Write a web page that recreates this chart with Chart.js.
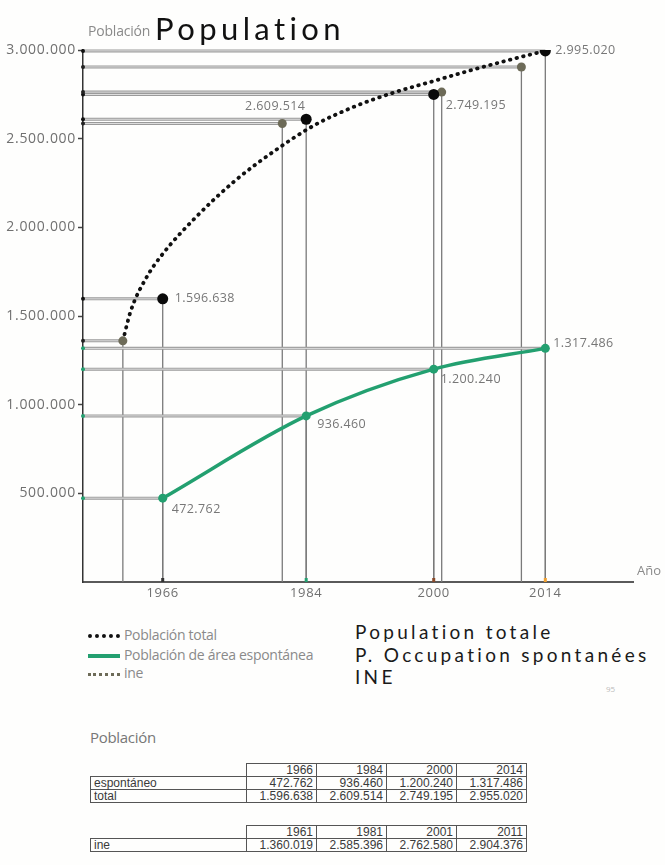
<!DOCTYPE html>
<html>
<head>
<meta charset="utf-8">
<script src="https://cdn.jsdelivr.net/npm/chart.js@4.4.1/dist/chart.umd.min.js"></script>
<style>
  html, body { margin: 0; padding: 0; background: #fefefd; }
  body { width: 665px; height: 865px; position: relative; overflow: hidden; font-family: "Open Sans", sans-serif; }
  #chart { position: absolute; left: 0; top: 0; }
  .abs { position: absolute; white-space: nowrap; }
  #subTitle { left: 88px; top: 21px; font-size: 14px; color: #8a8a8a; letter-spacing: -0.2px; }
  #mainTitle { left: 155px; top: 9px; font-family: Lato, sans-serif; font-size: 31px; color: #111; letter-spacing: 4.4px; }
  #ano { left: 637px; top: 561px; font-size: 13px; color: #8a8a8a; }
  .lg { font-size: 14px; color: #8a8a8a; letter-spacing: -0.3px; }
  .fr { font-family: Lato, sans-serif; font-size: 19px; color: #1a1a1a; letter-spacing: 3.3px; }
  .sw { display: inline-block; width: 32px; vertical-align: middle; margin-right: 4px; }
  #tblTitle { left: 90px; top: 727px; font-size: 15px; color: #777; letter-spacing: -0.3px; }
  table { position: absolute; border-collapse: collapse; font-family: "Liberation Sans", Arial, sans-serif; font-size: 12px; color: #3a3a3a; }
  td { border: 1px solid #555; padding: 0 3px; height: 12px; line-height: 12px; text-align: right; width: 63px; }
  td.lab { text-align: left; width: 149px; }
  td.blank { border: none; border-bottom: 1px solid #555; }
  #pg { left: 606px; top: 683px; font-size: 8px; color: #bbb; }
</style>
</head>
<body>
<canvas id="chart" width="665" height="610"></canvas>
<div class="abs" id="subTitle">Población</div>
<div class="abs" id="mainTitle">Population</div>
<div class="abs" id="ano">Año</div>

<div class="abs lg" style="left:88px; top:625px;"><span class="sw" style="border-top:4px dotted #111;"></span>Población total</div>
<div class="abs lg" style="left:88px; top:645px;"><span class="sw" style="border-top:4px solid #23a070;"></span>Población de área espontánea</div>
<div class="abs lg" style="left:88px; top:663px;"><span class="sw" style="border-top:3px dotted #6d6b58;"></span>ine</div>

<div class="abs fr" style="left:355px; top:620px;">Population totale</div>
<div class="abs fr" style="left:355px; top:643px;">P. Occupation spontanées</div>
<div class="abs fr" style="left:355px; top:665px;">INE</div>
<div class="abs" id="pg">95</div>

<div class="abs" id="tblTitle">Población</div>
<table id="t1" style="left:90px; top:763px;"></table>
<table id="t2" style="left:90px; top:825px;"></table>

<script>
// ---------- DATA ----------
const years = [1966, 1984, 2000, 2014];
const totalValues = [1596638, 2609514, 2749195, 2995020];
const espontaneoValues = [472762, 936460, 1200240, 1317486];
const ineYears = [1961, 1981, 2001, 2011];
const ineValues = [1360019, 2585396, 2762580, 2904376];
// dotted "Población total" curve
const curveYears = [1961, 1962, 1964, 1966, 1970, 1975, 1980, 1985, 1990, 1995, 2000, 2005, 2010, 2014];
const curveValues = [1360019, 1530000, 1720000, 1850000, 2050000, 2260000, 2430000, 2575000, 2680000, 2760000, 2825000, 2890000, 2950000, 2995020];
const xTickYears = [1966, 1984, 2000, 2014];
const yTickValues = [500000, 1000000, 1500000, 2000000, 2500000, 3000000];
// table values as printed
const tableRowLabels = ['espontáneo', 'total'];
const tableTotal = [1596638, 2609514, 2749195, 2955020];
const ineRowLabel = 'ine';

// ---------- helpers ----------
const fmt = v => String(Math.round(v)).replace(/\B(?=(\d{3})+(?!\d))/g, '.');
const FONT = '"Open Sans", sans-serif';

function buildTable(el, hdr, rows) {
  let h = '<tr><td class="lab blank"></td>' + hdr.map(y => '<td>' + y + '</td>').join('') + '</tr>';
  rows.forEach(r => {
    h += '<tr><td class="lab">' + r[0] + '</td>' + r[1].map(v => '<td>' + fmt(v) + '</td>').join('') + '</tr>';
  });
  el.innerHTML = h;
}
buildTable(document.getElementById('t1'), years, [[tableRowLabels[0], espontaneoValues], [tableRowLabels[1], tableTotal]]);
buildTable(document.getElementById('t2'), ineYears, [[ineRowLabel, ineValues]]);

const pts = (xs, ys) => xs.map((x, i) => ({ x: x, y: ys[i] }));

const GREEN = '#23a070';
const INE_C = '#6d6b58';

const guidePlugin = {
  id: 'guides',
  beforeDraw(chart) {
    chart.ctx.letterSpacing = '0.7px';
  },
  beforeDatasetsDraw(chart) {
    const { ctx, chartArea, scales: { x, y } } = chart;
    const groups = [
      { xs: years, ys: totalValues },
      { xs: ineYears, ys: ineValues },
      { xs: years, ys: espontaneoValues }
    ];
    ctx.save();
    groups.forEach(g => {
      g.xs.forEach((yr, i) => {
        const px = x.getPixelForValue(yr), py = y.getPixelForValue(g.ys[i]);
        ctx.strokeStyle = '#7a7a7a'; ctx.lineWidth = 1.3;
        ctx.beginPath(); ctx.moveTo(px, py); ctx.lineTo(px, chartArea.bottom); ctx.stroke();
        ctx.strokeStyle = '#9a9a9a'; ctx.lineWidth = 3;
        ctx.beginPath(); ctx.moveTo(chartArea.left, py); ctx.lineTo(px, py); ctx.stroke();
        ctx.strokeStyle = '#e6e6e6'; ctx.lineWidth = 0.9;
        ctx.beginPath(); ctx.moveTo(chartArea.left, py); ctx.lineTo(px, py); ctx.stroke();
      });
    });
    ctx.restore();
  },
  afterDatasetsDraw(chart) {
    const { ctx, chartArea, scales: { x, y } } = chart;
    ctx.save();
    const groups = [
      { ys: totalValues, c: '#111' }, { ys: ineValues, c: '#222' }, { ys: espontaneoValues, c: GREEN }
    ];
    groups.forEach(g => g.ys.forEach(v => {
      ctx.fillStyle = g.c;
      ctx.beginPath(); ctx.arc(chartArea.left, y.getPixelForValue(v), 2, 0, Math.PI * 2); ctx.fill();
    }));
    const tickCols = ['#333', GREEN, '#8a4a2a', '#f0a030'];
    xTickYears.forEach((yr, i) => {
      ctx.fillStyle = tickCols[i];
      ctx.fillRect(x.getPixelForValue(yr) - 1.5, chartArea.bottom - 4, 3, 4);
    });
    ctx.font = '12.5px ' + FONT;
    ctx.letterSpacing = '0.4px';
    ctx.fillStyle = '#777';
    ctx.textBaseline = 'middle';
    const lab = (yr, v, dx, dy, align) => {
      ctx.textAlign = align;
      ctx.fillText(fmt(v), x.getPixelForValue(yr) + dx, y.getPixelForValue(v) + dy);
    };
    const tOff = [[12, 0, 'left'], [-31, -13, 'center'], [12, 11, 'left'], [10, 0, 'left']];
    const eOff = [[9, 11, 'left'], [11, 9, 'left'], [7, 10, 'left'], [8, -5, 'left']];
    years.forEach((yr, i) => lab(yr, totalValues[i], ...tOff[i]));
    years.forEach((yr, i) => lab(yr, espontaneoValues[i], ...eOff[i]));
    ctx.restore();
  }
};

new Chart(document.getElementById('chart'), {
  type: 'line',
  data: {
    datasets: [
      {
        label: 'Población total',
        data: pts(curveYears, curveValues),
        borderColor: '#111', borderWidth: 3.8, borderDash: [0.5, 6.3], borderCapStyle: 'round',
        pointRadius: 0, cubicInterpolationMode: 'monotone', fill: false, order: 3
      },
      {
        label: 'Población de área espontánea',
        data: pts(years, espontaneoValues),
        borderColor: GREEN, borderWidth: 3.5, backgroundColor: GREEN,
        pointRadius: 4.5, pointBorderWidth: 0, pointBackgroundColor: GREEN,
        cubicInterpolationMode: 'monotone', fill: false, order: 2
      },
      {
        label: 'ine',
        data: pts(ineYears, ineValues),
        showLine: false, pointRadius: 4.5, pointBorderWidth: 0, pointBackgroundColor: INE_C, order: 1
      },
      {
        label: 'total',
        data: pts(years, totalValues),
        showLine: false, pointRadius: 5.5, pointBorderWidth: 0, pointBackgroundColor: '#0a0a0a', order: 0
      }
    ]
  },
  options: {
    responsive: false, animation: false,
    layout: { padding: { top: 50, right: 32, left: 0, bottom: 0 } },
    plugins: { legend: { display: false }, tooltip: { enabled: false } },
    scales: {
      x: {
        type: 'linear', min: 1956, max: 2025,
        afterBuildTicks: s => { s.ticks = xTickYears.map(v => ({ value: v })); },
        afterFit: s => { s.height = 28; },
        grid: { display: false, drawTicks: false },
        border: { display: true, color: '#5a5a5a', width: 2 },
        ticks: { color: '#707070', font: { family: FONT, size: 13 }, padding: 3, autoSkip: false, maxRotation: 0, callback: v => String(v) }
      },
      y: {
        type: 'linear', min: 0, max: 3000000,
        afterBuildTicks: s => { s.ticks = yTickValues.map(v => ({ value: v })); },
        afterFit: s => { s.width = 83; },
        grid: { drawOnChartArea: false, drawTicks: true, tickLength: 5, color: '#444', tickWidth: 1.5 },
        border: { display: true, color: '#333', width: 1.5 },
        ticks: { color: '#707070', font: { family: FONT, size: 14 }, padding: 2, callback: v => fmt(v) }
      }
    }
  },
  plugins: [guidePlugin]
});
</script>
</body>
</html>
